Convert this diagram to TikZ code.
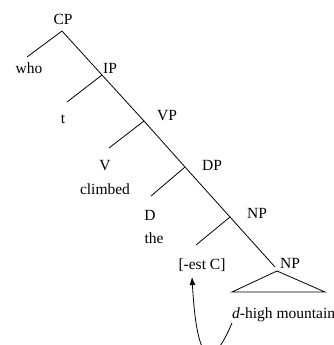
\documentclass[tikz,border=0pt]{standalone}
\usepackage{fontspec}
\setmainfont{Liberation Serif}
\usetikzlibrary{arrows.meta}

\begin{document}
\begin{tikzpicture}[
    x=1pt, y=-1pt,
    >={Latex[length=8pt,width=6pt]},
    lbl/.style={inner sep=0pt, anchor=base, font=\fontsize{15.5}{18}\selectfont},
    edge/.style={line width=0.8pt},
    arr/.style={->, line width=0.8pt}
  ]
  \useasboundingbox (0,0) rectangle (333,345);

  % labels
  \node (cp)   [lbl] at (63,25)  {CP};
  \node (who)  [lbl] at (29,74)  {who};
  \node (ip)   [lbl] at (110,74) {IP};
  \node (t)    [lbl] at (63,123) {t};
  \node (vp)   [lbl] at (167,120) {VP};
  \node (v)    [lbl] at (105,170) {V};
  \node (clm)  [lbl] at (105,194) {climbed};
  \node (dp)   [lbl] at (212,170) {DP};
  \node (d)    [lbl] at (150,220) {D};
  \node (the)  [lbl] at (154,243) {the};
  \node (np)   [lbl] at (257,218) {NP};
  \node (est)  [lbl] at (202,269) {[-est C]};
  \node (np2)  [lbl] at (290,268) {NP};
  \node (mtn)  [lbl, anchor=base west] at (232,318) {\textit{d}-high mountain};

  % branch points
  \coordinate (cpj)  at (62,31);
  \coordinate (ipj)  at (102,75);
  \coordinate (vpj)  at (144,121);
  \coordinate (dpj)  at (185,167);
  \coordinate (npj)  at (230,217);
  \coordinate (np2j) at (275,267);
  \coordinate (whoj) at (27,57);
  \coordinate (tj)   at (67,102);
  \coordinate (vj)   at (109,148);
  \coordinate (dj)   at (151,196);
  \coordinate (estj) at (196,245);
  \coordinate (tri)  at (277,271);
  \coordinate (tril) at (232,292);
  \coordinate (trir) at (325,292);
  \coordinate (src)  at (232,323);
  \coordinate (tgt)  at (192,277);

  % tree
  \draw[edge] (cpj) -- (ipj) -- (vpj) -- (dpj) -- (npj) -- (np2j);
  \draw[edge] (cpj) -- (whoj);
  \draw[edge] (ipj) -- (tj);
  \draw[edge] (vpj) -- (vj);
  \draw[edge] (dpj) -- (dj);
  \draw[edge] (npj) -- (estj);
  \draw[edge] (tri) -- (tril) -- (trir) -- cycle;

  % movement
  \draw[arr] (src) .. controls (212,370) and (197,368) .. (tgt);
\end{tikzpicture}
\end{document}
